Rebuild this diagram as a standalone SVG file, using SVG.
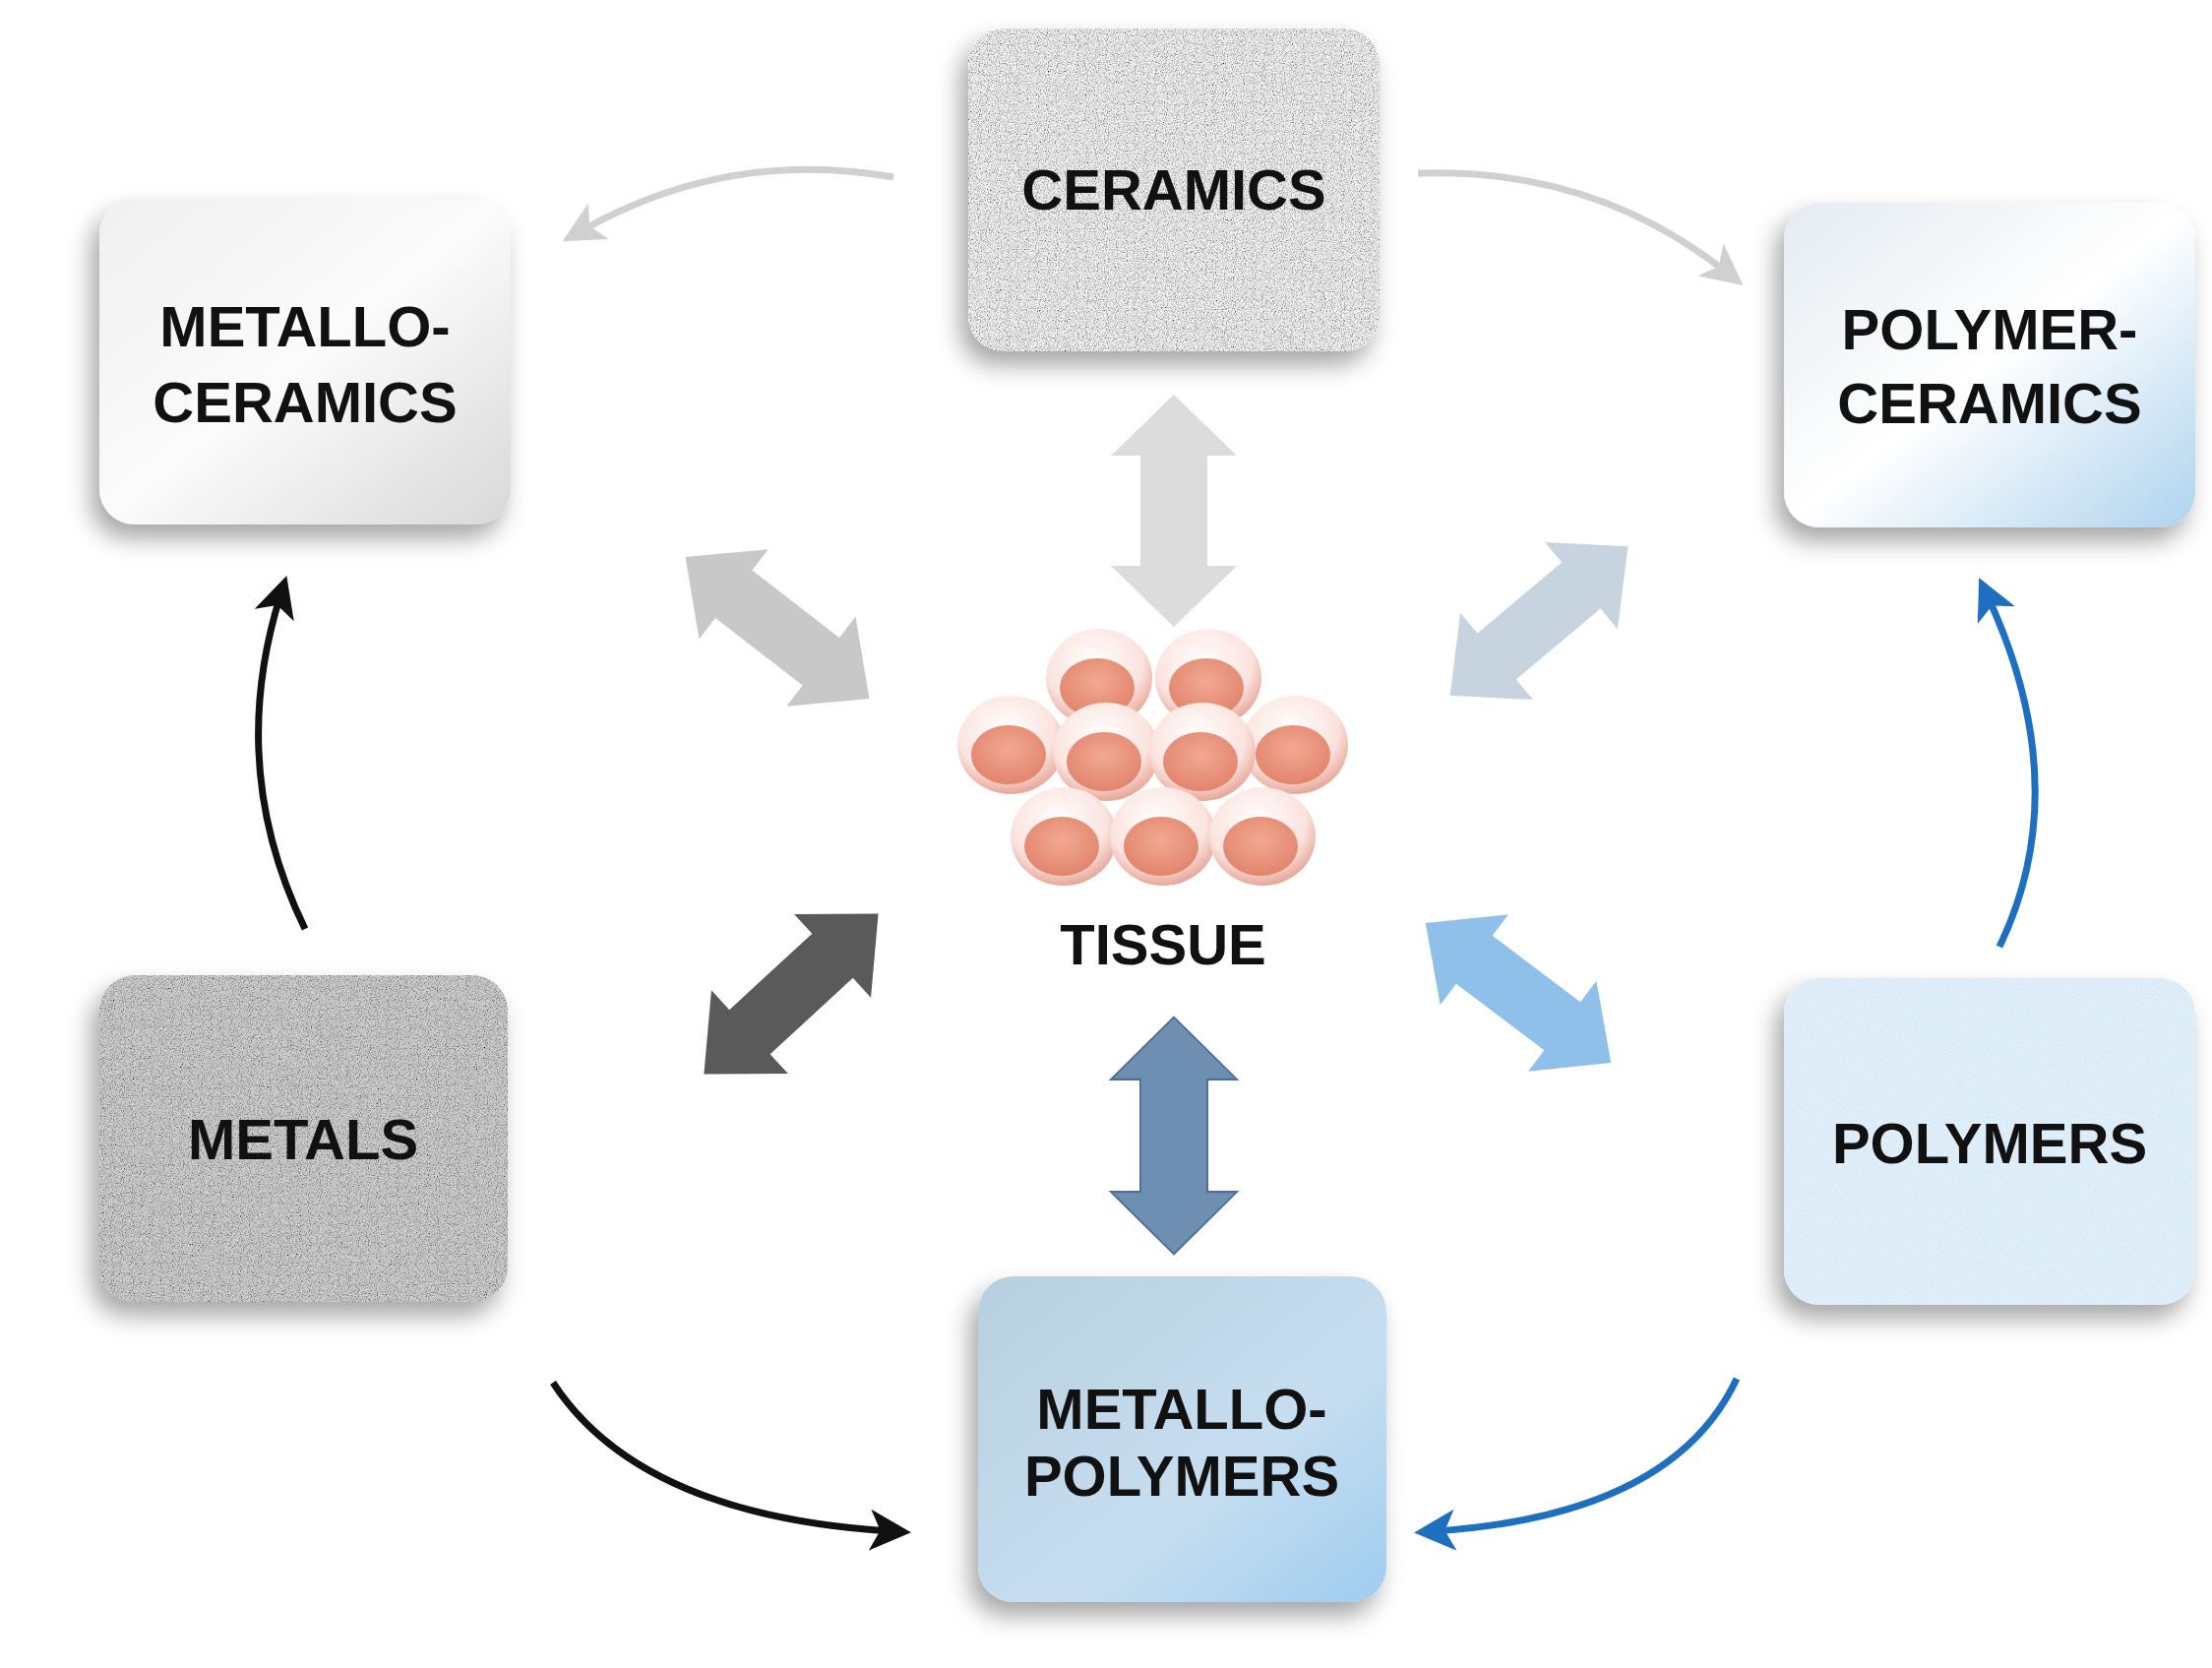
<svg xmlns="http://www.w3.org/2000/svg" width="2248" height="1695" viewBox="0 0 2248 1695">
<defs>
<style>
.lbl{font-family:"Liberation Sans",Arial,sans-serif;font-weight:bold;font-size:58px;fill:#111;text-anchor:middle}
.box{stroke:none}
.curve{fill:none;stroke-width:7}
</style>
<filter id="shadow" x="-20%" y="-20%" width="150%" height="150%"><feDropShadow dx="-8" dy="14" stdDeviation="12" flood-color="#000" flood-opacity="0.35"/></filter>
<filter id="speck" x="0" y="0" width="100%" height="100%">
<feTurbulence type="fractalNoise" baseFrequency="0.9" numOctaves="2" seed="3" result="n"/>
<feColorMatrix in="n" type="matrix" values="0 0 0 0 0  0 0 0 0 0  0 0 0 0 0  2.2 0 0 0 -0.95" result="dots"/>
<feComposite in="dots" in2="SourceGraphic" operator="in" result="d2"/>
<feMerge><feMergeNode in="SourceGraphic"/><feMergeNode in="d2"/></feMerge>
</filter>
<filter id="speckB" x="0" y="0" width="100%" height="100%">
<feTurbulence type="fractalNoise" baseFrequency="0.6" numOctaves="2" seed="5" result="n"/>
<feColorMatrix in="n" type="matrix" values="0 0 0 0 0.55  0 0 0 0 0.75  0 0 0 0 0.9  1.6 0 0 0 -0.7" result="dots"/>
<feComposite in="dots" in2="SourceGraphic" operator="in" result="d2"/>
<feMerge><feMergeNode in="SourceGraphic"/><feMergeNode in="d2"/></feMerge>
</filter>
<linearGradient id="gMC" x1="0" y1="0" x2="1" y2="1"><stop offset="0" stop-color="#f0f0f0"/><stop offset="0.5" stop-color="#fbfbfb"/><stop offset="1" stop-color="#d8d8d8"/></linearGradient>
<linearGradient id="gPC" x1="0" y1="0" x2="1" y2="1"><stop offset="0" stop-color="#e4ebf1"/><stop offset="0.5" stop-color="#ffffff"/><stop offset="1" stop-color="#aed3ee"/></linearGradient>
<linearGradient id="gMP" x1="0" y1="0" x2="1" y2="1"><stop offset="0" stop-color="#b8cfe0"/><stop offset="0.6" stop-color="#c7def0"/><stop offset="1" stop-color="#9fcdf0"/></linearGradient>
<radialGradient id="cell" cx="0.45" cy="0.35" r="0.65"><stop offset="0" stop-color="#ffffff"/><stop offset="0.7" stop-color="#fbe3de"/><stop offset="1" stop-color="#e7a79a"/></radialGradient>
<radialGradient id="nuc" cx="0.5" cy="0.4" r="0.6"><stop offset="0" stop-color="#f2a993"/><stop offset="1" stop-color="#e2846c"/></radialGradient>
<marker id="mGrey" markerWidth="6" markerHeight="6" refX="3" refY="3" orient="auto" markerUnits="strokeWidth"><path d="M0,0 L6,3 L0,6 L1.5,3 Z" fill="#d0d0d0"/></marker>
<marker id="mBlack" markerWidth="6" markerHeight="6" refX="3" refY="3" orient="auto" markerUnits="strokeWidth"><path d="M0,0 L6,3 L0,6 L1.5,3 Z" fill="#111"/></marker>
<marker id="mBlue" markerWidth="6" markerHeight="6" refX="3" refY="3" orient="auto" markerUnits="strokeWidth"><path d="M0,0 L6,3 L0,6 L1.5,3 Z" fill="#1e6fc0"/></marker>
<path id="dbl" d="M-118,0 L-56,-64 L-56,-34 L56,-34 L56,-64 L118,0 L56,64 L56,34 L-56,34 L-56,64 Z"/>
</defs>
<rect width="2248" height="1695" fill="#fff"/>

<g id="connectors">
<path class="curve" d="M908,180 Q740,150 590,235" stroke="#d0d0d0" marker-end="url(#mGrey)"/>
<path class="curve" d="M1441,176 Q1620,170 1755,277" stroke="#d0d0d0" marker-end="url(#mGrey)"/>
<path class="curve" d="M310,944 Q230,780 285,605" stroke="#111" marker-end="url(#mBlack)"/>
<path class="curve" d="M562,1405 Q650,1540 905,1556" stroke="#111" marker-end="url(#mBlack)"/>
<path class="curve" d="M1765,1401 Q1700,1540 1458,1556" stroke="#1e6fc0" marker-end="url(#mBlue)"/>
<path class="curve" d="M2032,962 Q2110,800 2020,606" stroke="#1e6fc0" marker-end="url(#mBlue)"/>
<use href="#dbl" transform="translate(1193,519) rotate(90)" fill="#dcdcdc"/>
<use href="#dbl" transform="translate(1193,1154) rotate(90) scale(1.02,1)" fill="#6f8fb2" stroke="#4f6f95" stroke-width="2"/>
<use href="#dbl" transform="translate(790,638) rotate(37.6) scale(1,0.9)" fill="#c8c8c8"/>
<use href="#dbl" transform="translate(1564,631) rotate(-40) scale(1,0.9)" fill="#c7d4e0"/>
<use href="#dbl" transform="translate(804,1010) rotate(-42.6) scale(1.02,0.9)" fill="#5a5a5a"/>
<use href="#dbl" transform="translate(1543,1009) rotate(37) scale(1,0.9)" fill="#8fc0ea"/>
</g>

<g id="ceramics" filter="url(#shadow)">
<rect class="box" x="984" y="29" width="418" height="328" rx="36" fill="#f3f3f3" filter="url(#speck)"/>
</g>
<text class="lbl" x="1193" y="213">CERAMICS</text>

<g id="metallo-ceramics" filter="url(#shadow)">
<rect class="box" x="101" y="202" width="418" height="331" rx="36" fill="url(#gMC)"/>
</g>
<text class="lbl" x="310" y="352">METALLO-</text>
<text class="lbl" x="310" y="429">CERAMICS</text>

<g id="polymer-ceramics" filter="url(#shadow)">
<rect class="box" x="1813" y="206" width="418" height="330" rx="36" fill="url(#gPC)"/>
</g>
<text class="lbl" x="2022" y="355">POLYMER-</text>
<text class="lbl" x="2022" y="430">CERAMICS</text>

<g id="metals" filter="url(#shadow)">
<rect class="box" x="101" y="991" width="415" height="332" rx="36" fill="#d0d0d0" filter="url(#speck)"/>
</g>
<text class="lbl" x="308" y="1178">METALS</text>

<g id="polymers" filter="url(#shadow)">
<rect class="box" x="1813" y="994" width="418" height="332" rx="36" fill="#e2eff9" filter="url(#speckB)"/>
</g>
<text class="lbl" x="2022" y="1182">POLYMERS</text>

<g id="metallo-polymers" filter="url(#shadow)">
<rect class="box" x="994" y="1297" width="415" height="331" rx="36" fill="url(#gMP)"/>
</g>
<text class="lbl" x="1201" y="1452">METALLO-</text>
<text class="lbl" x="1201" y="1520">POLYMERS</text>

<g id="tissue">
<g>
<ellipse cx="1117" cy="689" rx="54" ry="50" fill="url(#cell)"/><ellipse cx="1115" cy="699" rx="38" ry="30" fill="url(#nuc)"/>
<ellipse cx="1228" cy="689" rx="54" ry="50" fill="url(#cell)"/><ellipse cx="1226" cy="699" rx="38" ry="30" fill="url(#nuc)"/>
<ellipse cx="1027" cy="757" rx="54" ry="50" fill="url(#cell)"/><ellipse cx="1025" cy="767" rx="38" ry="30" fill="url(#nuc)"/>
<ellipse cx="1316" cy="757" rx="54" ry="50" fill="url(#cell)"/><ellipse cx="1314" cy="767" rx="38" ry="30" fill="url(#nuc)"/>
<ellipse cx="1124" cy="764" rx="54" ry="50" fill="url(#cell)"/><ellipse cx="1122" cy="774" rx="38" ry="30" fill="url(#nuc)"/>
<ellipse cx="1222" cy="764" rx="54" ry="50" fill="url(#cell)"/><ellipse cx="1220" cy="774" rx="38" ry="30" fill="url(#nuc)"/>
<ellipse cx="1081" cy="850" rx="54" ry="50" fill="url(#cell)"/><ellipse cx="1079" cy="860" rx="38" ry="30" fill="url(#nuc)"/>
<ellipse cx="1182" cy="850" rx="54" ry="50" fill="url(#cell)"/><ellipse cx="1180" cy="860" rx="38" ry="30" fill="url(#nuc)"/>
<ellipse cx="1283" cy="850" rx="54" ry="50" fill="url(#cell)"/><ellipse cx="1281" cy="860" rx="38" ry="30" fill="url(#nuc)"/>
</g>
<text class="lbl" x="1182" y="980">TISSUE</text>
</g>
</svg>
